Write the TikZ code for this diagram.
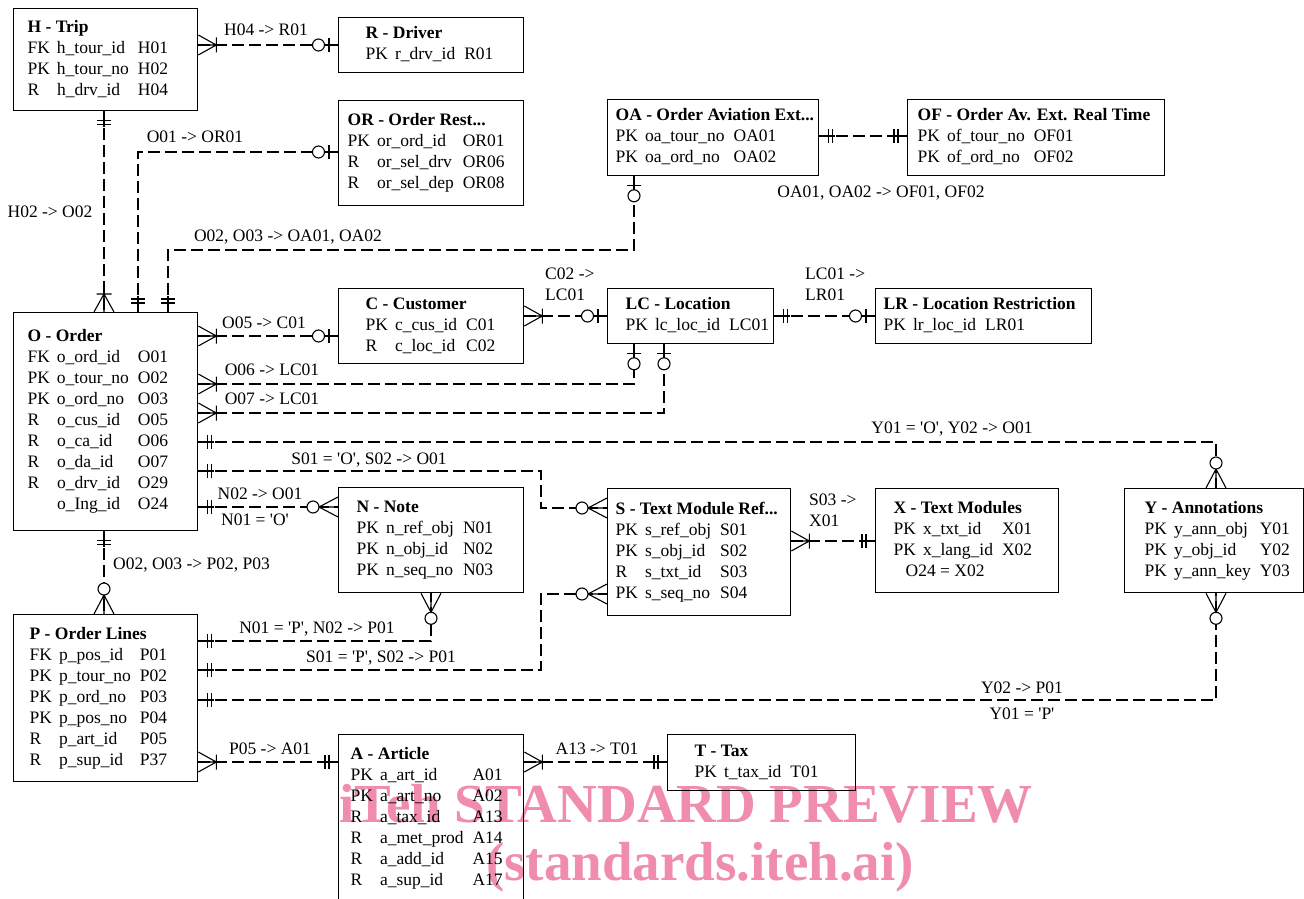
\documentclass[tikz,border=0pt]{standalone}
\usepackage{fontspec}
\setmainfont{Liberation Serif}
\usepackage{tikz}
\usetikzlibrary{positioning}

\definecolor{wmpink}{RGB}{240,140,172}
\newcommand{\erfont}{\fontsize{17.5}{21}\selectfont}
\newcommand{\ertitle}[1]{\multicolumn{3}{@{}l@{}}{\textbf{#1}}}
\newcommand{\quoted}[1]{\textquotesingle#1\textquotesingle}
% entity body: width, left padding, rows
\newcommand{\erbox}[3]{\makebox[#1][l]{\hspace*{#2}\begin{tabular}{@{}l@{\hspace{7pt}}l@{\hspace{9pt}}l@{}}#3\end{tabular}}}

\begin{document}
\begin{tikzpicture}[x=1pt, y=-1pt,
  font=\erfont,
  entity/.style={draw, line width=1.3pt, anchor=north west, inner sep=0pt},
  rel/.style={line width=1.1pt, dash pattern=on 12pt off 5pt},
  lab/.style={inner sep=1pt},
  wm/.style={inner sep=0pt, anchor=base, text=wmpink, font=\fontsize{55}{60}\selectfont\bfseries},
  mk/.style={line width=1.1pt, solid},
  onlyone/.pic={\draw[mk] (0,0) -- (16,0) (9,-7) -- (9,7) (13,-7) -- (13,7);},
  onemany/.pic={\draw[mk] (0,0) -- (20,0) (0,-10) -- (18,0) -- (0,10) (18,-7.5) -- (18,7.5);},
  zeroone/.pic={\draw[mk] (0,0) -- (14,0) (9,-7) -- (9,7); \draw[mk, fill=white] (19.5,0) circle (6pt);},
  zeromany/.pic={\draw[mk] (0,0) -- (19,0) (0,-10) -- (19,0) -- (0,10); \draw[mk, fill=white] (25,0) circle (6pt);}]

\path[use as bounding box, fill=white] (0,0) rectangle (1304,899);

% watermark
\node[wm] (wm1) at (686,822) {iTeh STANDARD PREVIEW};
\node[wm] (wm2) at (700,880) {(standards.iteh.ai)};

% entities
\node[entity, minimum height=102pt] (H) at (13,8) {\erbox{184pt}{14pt}{\ertitle{H - Trip}\\
  FK & h\_tour\_id & H01\\ PK & h\_tour\_no & H02\\ R & h\_drv\_id & H04}};
\node[entity, minimum height=55pt] (R) at (338,17) {\erbox{185pt}{27pt}{\ertitle{R - Driver}\\
  PK & r\_drv\_id & R01}};
\node[entity, minimum height=105pt] (OR) at (338,100) {\erbox{185pt}{9pt}{\ertitle{OR - Order Rest...}\\
  PK & or\_ord\_id & OR01\\ R & or\_sel\_drv & OR06\\ R & or\_sel\_dep & OR08}};
\node[entity, minimum height=76pt] (OA) at (607,99) {\erbox{211pt}{8pt}{\ertitle{OA - Order Aviation Ext...}\\
  PK & oa\_tour\_no & OA01\\ PK & oa\_ord\_no & OA02}};
\node[entity, minimum height=76pt] (OF) at (907,99) {\erbox{257pt}{10pt}{\ertitle{OF - Order Av. Ext. Real Time}\\
  PK & of\_tour\_no & OF01\\ PK & of\_ord\_no & OF02}};
\node[entity, minimum height=218pt] (O) at (13,312) {\erbox{184pt}{14pt}{\ertitle{O - Order}\\
  FK & o\_ord\_id & O01\\ PK & o\_tour\_no & O02\\ PK & o\_ord\_no & O03\\ R & o\_cus\_id & O05\\
  R & o\_ca\_id & O06\\ R & o\_da\_id & O07\\ R & o\_drv\_id & O29\\ & o\_Ing\_id & O24}};
\node[entity, minimum height=75pt] (C) at (338,288) {\erbox{185pt}{27pt}{\ertitle{C - Customer}\\
  PK & c\_cus\_id & C01\\ R & c\_loc\_id & C02}};
\node[entity, minimum height=55pt] (LC) at (607,288) {\erbox{166pt}{18pt}{\ertitle{LC - Location}\\
  PK & lc\_loc\_id & LC01}};
\node[entity, minimum height=55pt] (LR) at (875,288) {\erbox{216pt}{8pt}{\ertitle{LR - Location Restriction}\\
  PK & lr\_loc\_id & LR01}};
\node[entity, minimum height=105pt] (N) at (338,487) {\erbox{185pt}{18pt}{\ertitle{N - Note}\\
  PK & n\_ref\_obj & N01\\ PK & n\_obj\_id & N02\\ PK & n\_seq\_no & N03}};
\node[entity, minimum height=127pt] (S) at (607,488) {\erbox{183pt}{8pt}{\ertitle{S - Text Module Ref...}\\
  PK & s\_ref\_obj & S01\\ PK & s\_obj\_id & S02\\ R & s\_txt\_id & S03\\ PK & s\_seq\_no & S04}};
\node[entity, minimum height=104pt] (X) at (875,488) {\erbox{183pt}{18pt}{\ertitle{X - Text Modules}\\
  PK & x\_txt\_id & X01\\ PK & x\_lang\_id & X02\\ \multicolumn{3}{@{\hspace{12pt}}l@{}}{O24 = X02}}};
\node[entity, minimum height=104pt] (Y) at (1124,488) {\erbox{179pt}{20pt}{\ertitle{Y - Annotations}\\
  PK & y\_ann\_obj & Y01\\ PK & y\_obj\_id & Y02\\ PK & y\_ann\_key & Y03}};
\node[entity, minimum height=167pt] (P) at (13,614) {\erbox{184pt}{16pt}{\ertitle{P - Order Lines}\\
  FK & p\_pos\_id & P01\\ PK & p\_tour\_no & P02\\ PK & p\_ord\_no & P03\\ PK & p\_pos\_no & P04\\
  R & p\_art\_id & P05\\ R & p\_sup\_id & P37}};
\node[entity, minimum height=168pt] (A) at (338,734) {\erbox{185pt}{12pt}{\ertitle{A - Article}\\
  PK & a\_art\_id & A01\\ PK & a\_art\_no & A02\\ R & a\_tax\_id & A13\\ R & a\_met\_prod & A14\\
  R & a\_add\_id & A15\\ R & a\_sup\_id & A17}};
\node[entity, minimum height=56pt] (T) at (667,734) {\erbox{188pt}{27pt}{\ertitle{T - Tax}\\
  PK & t\_tax\_id & T01}};

% relations
\draw[rel] (H.east |- 0,45) -- (R.west |- 0,45);
\draw[rel] (H.south -| 104,0) -- (O.north -| 104,0);
\draw[rel] (O.north -| 138,0) |- (OR.west |- 0,152);
\draw[rel] (O.north -| 168,0) |- (634,250) -- (OA.south -| 634,0);
\draw[rel] (OA.east |- 0,136) -- (OF.west |- 0,136);
\draw[rel] (O.east |- 0,336) -- (C.west |- 0,336);
\draw[rel] (C.east |- 0,316) -- (LC.west |- 0,316);
\draw[rel] (LC.east |- 0,316) -- (LR.west |- 0,316);
\draw[rel] (O.east |- 0,384) -| (LC.south -| 634,0);
\draw[rel] (O.east |- 0,413) -| (LC.south -| 664,0);
\draw[rel] (O.east |- 0,442) -| (Y.north -| 1216,0);
\draw[rel] (O.east |- 0,471) -| (541,508) -- (S.west |- 0,508);
\draw[rel] (O.east |- 0,507) -- (N.west |- 0,507);
\draw[rel] (O.south -| 104,0) -- (P.north -| 104,0);
\draw[rel] (P.east |- 0,641) -| (N.south -| 431,0);
\draw[rel] (P.east |- 0,670) -| (541,594) -- (S.west |- 0,594);
\draw[rel] (P.east |- 0,700) -| (Y.south -| 1216,0);
\draw[rel] (P.east |- 0,762) -- (A.west |- 0,762);
\draw[rel] (A.east |- 0,762) -- (T.west |- 0,762);
\draw[rel] (S.east |- 0,541) -- (X.west |- 0,541);

% cardinalities
\pic at (H.east |- 0,45) {onemany};
\pic[rotate=180] at (R.west |- 0,45) {zeroone};
\pic[rotate=-90] at (H.south -| 104,0) {onlyone};
\pic[rotate=90] at (O.north -| 104,0) {onemany};
\pic[rotate=90] at (O.north -| 138,0) {onlyone};
\pic[rotate=180] at (OR.west |- 0,152) {zeroone};
\pic[rotate=90] at (O.north -| 168,0) {onlyone};
\pic[rotate=-90] at (OA.south -| 634,0) {zeroone};
\pic at (OA.east |- 0,136) {onlyone};
\pic[rotate=180] at (OF.west |- 0,136) {onlyone};
\pic at (O.east |- 0,336) {onemany};
\pic[rotate=180] at (C.west |- 0,336) {zeroone};
\pic at (C.east |- 0,316) {onemany};
\pic[rotate=180] at (LC.west |- 0,316) {zeroone};
\pic at (LC.east |- 0,316) {onlyone};
\pic[rotate=180] at (LR.west |- 0,316) {zeroone};
\pic at (O.east |- 0,384) {onemany};
\pic[rotate=-90] at (LC.south -| 634,0) {zeroone};
\pic at (O.east |- 0,413) {onemany};
\pic[rotate=-90] at (LC.south -| 664,0) {zeroone};
\pic at (O.east |- 0,442) {onlyone};
\pic[rotate=90] at (Y.north -| 1216,0) {zeromany};
\pic at (O.east |- 0,471) {onlyone};
\pic[rotate=180] at (S.west |- 0,508) {zeromany};
\pic at (O.east |- 0,507) {onlyone};
\pic[rotate=180] at (N.west |- 0,507) {zeromany};
\pic[rotate=-90] at (O.south -| 104,0) {onlyone};
\pic[rotate=90] at (P.north -| 104,0) {zeromany};
\pic at (P.east |- 0,641) {onlyone};
\pic[rotate=-90] at (N.south -| 431,0) {zeromany};
\pic at (P.east |- 0,670) {onlyone};
\pic[rotate=180] at (S.west |- 0,594) {zeromany};
\pic at (P.east |- 0,700) {onlyone};
\pic[rotate=-90] at (Y.south -| 1216,0) {zeromany};
\pic at (P.east |- 0,762) {onemany};
\pic[rotate=180] at (A.west |- 0,762) {onlyone};
\pic at (A.east |- 0,762) {onemany};
\pic[rotate=180] at (T.west |- 0,762) {onlyone};
\pic at (S.east |- 0,541) {onemany};
\pic[rotate=180] at (X.west |- 0,541) {onlyone};

% labels
\node[lab] (lHR) at (266,30) {H04 -> R01};
\node[lab] (lHO) at (50,212) {H02 -> O02};
\node[lab] (lOOR) at (195,137) {O01 -> OR01};
\node[lab] (lOOA) at (288,237) {O02, O03 -> OA01, OA02};
\node[lab] (lOAOF) at (881,193) {OA01, OA02 -> OF01, OF02};
\node[lab] (lOC) at (264,323) {O05 -> C01};
\node[lab, anchor=west, align=left] (lCLC) at (544,284) {C02 ->\\LC01};
\node[lab, anchor=west, align=left] (lLCLR) at (804,284) {LC01 ->\\LR01};
\node[lab] (lOLCa) at (272,370) {O06 -> LC01};
\node[lab] (lOLCb) at (272,399) {O07 -> LC01};
\node[lab] (lOY) at (952,429) {Y01 = \quoted{O}, Y02 -> O01};
\node[lab] (lOS) at (369,460) {S01 = \quoted{O}, S02 -> O01};
\node[lab] (lON) at (260,494) {N02 -> O01};
\node[lab] (lONb) at (255,520) {N01 = \quoted{O}};
\node[lab, anchor=west] (lOP) at (112,565) {O02, O03 -> P02, P03};
\node[lab] (lPN) at (317,629) {N01 = \quoted{P}, N02 -> P01};
\node[lab] (lPS) at (381,658) {S01 = \quoted{P}, S02 -> P01};
\node[lab] (lPY) at (1022,688) {Y02 -> P01};
\node[lab] (lPYb) at (1022,714) {Y01 = \quoted{P}};
\node[lab] (lPA) at (270,749) {P05 -> A01};
\node[lab] (lAT) at (597,749) {A13 -> T01};
\node[lab, anchor=west, align=left] (lSX) at (808,510) {S03 ->\\X01};
\end{tikzpicture}
\end{document}
